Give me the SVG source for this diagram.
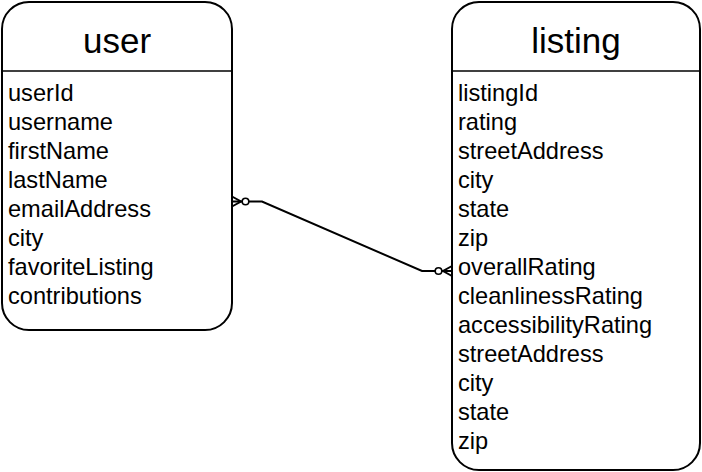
<svg xmlns="http://www.w3.org/2000/svg" width="702" height="472" viewBox="0 0 702 472">
<style>
.box{fill:#fff;stroke:#000;stroke-width:2}
.sep{stroke:#000;stroke-width:1.5}
.title{font-family:"Liberation Sans",Arial,sans-serif;font-size:35px;fill:#000;text-anchor:middle}
.attr{font-family:"Liberation Sans",Arial,sans-serif;font-size:23.6px;fill:#000}
.conn{fill:none;stroke:#000;stroke-width:2}
.circ{fill:#fff;stroke:#000;stroke-width:1.6}
</style>
<rect width="702" height="472" fill="#fff"/>
<g id="user">
<rect class="box" x="2" y="2" width="230" height="328" rx="27" ry="27"/>
<line class="sep" x1="2" y1="71" x2="232" y2="71"/>
<text class="title" x="117" y="53">user</text>
<text class="attr" x="8" y="101">userId</text>
<text class="attr" x="8" y="130">username</text>
<text class="attr" x="8" y="159">firstName</text>
<text class="attr" x="8" y="188">lastName</text>
<text class="attr" x="8" y="217">emailAddress</text>
<text class="attr" x="8" y="246">city</text>
<text class="attr" x="8" y="275">favoriteListing</text>
<text class="attr" x="8" y="304">contributions</text>
</g>
<g id="listing">
<rect class="box" x="452" y="2" width="248" height="468" rx="27" ry="27"/>
<line class="sep" x1="452" y1="71" x2="700" y2="71"/>
<text class="title" x="576" y="53">listing</text>
<text class="attr" x="458" y="101">listingId</text>
<text class="attr" x="458" y="130">rating</text>
<text class="attr" x="458" y="159">streetAddress</text>
<text class="attr" x="458" y="188">city</text>
<text class="attr" x="458" y="217">state</text>
<text class="attr" x="458" y="246">zip</text>
<text class="attr" x="458" y="275">overallRating</text>
<text class="attr" x="458" y="304">cleanlinessRating</text>
<text class="attr" x="458" y="333">accessibilityRating</text>
<text class="attr" x="458" y="362">streetAddress</text>
<text class="attr" x="458" y="391">city</text>
<text class="attr" x="458" y="420">state</text>
<text class="attr" x="458" y="449">zip</text>
</g>
<g id="connectors">
<path class="conn" d="M232 201.5 H262 L422 271 H452"/>
<path class="conn" stroke-width="1.6" d="M232 196.5 L241 201.5 L232 206.5"/>
<circle class="circ" cx="245.5" cy="201.5" r="3.3"/>
<path class="conn" stroke-width="1.6" d="M452 266 L443 271 L452 276"/>
<circle class="circ" cx="438.5" cy="271" r="3.3"/>
</g>
</svg>
